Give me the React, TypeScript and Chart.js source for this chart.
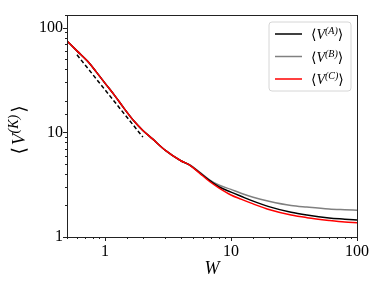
import React, { useEffect, useRef } from "react";
import { Chart, registerables } from "chart.js";

Chart.register(...registerables);

// ---- data ----
const W = [0.5, 0.6, 0.75, 0.85, 1.0, 1.2, 1.4, 1.7, 2.0, 2.4, 3.0, 4.0, 4.7, 5.6, 6.8, 8, 10, 12, 15, 20, 30, 40, 60, 80, 100];
const vA = [74.5, 60, 46, 38, 29.5, 22.3, 17.3, 12.8, 10.4, 8.6, 6.75, 5.35, 4.87, 4.15, 3.45, 3.02, 2.68, 2.45, 2.2, 1.95, 1.72, 1.62, 1.52, 1.48, 1.45];
const vB = [74.5, 60, 46, 38, 29.5, 22.3, 17.3, 12.8, 10.4, 8.6, 6.75, 5.35, 4.9, 4.2, 3.5, 3.14, 2.85, 2.62, 2.4, 2.2, 2.0, 1.93, 1.85, 1.82, 1.8];
const vC = [74.5, 60, 46, 38, 29.5, 22.3, 17.3, 12.8, 10.4, 8.6, 6.75, 5.35, 4.87, 4.1, 3.37, 2.95, 2.52, 2.3, 2.07, 1.83, 1.62, 1.53, 1.44, 1.39, 1.37];
const guideW = [0.6, 2.0];
const guideV = [55, 9];

const seriesKeys = ["A", "B", "C"];
const seriesColors = ["#000000", "#808080", "#ff0000"];
const xTickLabels = [1, 10, 100];
const yTickLabels = [1, 10, 100];
const xTitle = "W";
const yTitleKey = "K";

const SERIF = "'Liberation Serif', 'DejaVu Serif', serif";

const isDecade = (v: number) => {
  const l = Math.log10(v);
  return Math.abs(l - Math.round(l)) < 1e-9;
};

// draws ⟨V^(k)⟩ starting at x (baseline y), returns total width if dryRun
function drawBracketV(ctx: any, k: string, x: number, base: number, size: number, supSize: number, rise: number, gap: number, dry = false) {
  const start = x;
  ctx.font = `${size}px ${SERIF}`;
  if (!dry) ctx.fillText("⟨", x, base);
  x += ctx.measureText("⟨").width + gap;
  ctx.font = `italic ${size}px ${SERIF}`;
  if (!dry) ctx.fillText("V", x, base);
  x += ctx.measureText("V").width;
  ctx.font = `italic ${supSize}px ${SERIF}`;
  const sup = `(${k})`;
  if (!dry) ctx.fillText(sup, x, base - rise);
  x += ctx.measureText(sup).width + gap;
  ctx.font = `${size}px ${SERIF}`;
  if (!dry) ctx.fillText("⟩", x, base);
  x += ctx.measureText("⟩").width;
  return x - start;
}

const framePlugin = {
  id: "frameAndTicks",
  afterDraw(chart: any) {
    const { ctx, chartArea } = chart;
    const { left, right, top, bottom } = chartArea;
    ctx.save();
    ctx.strokeStyle = "#222";
    ctx.lineWidth = 1;
    const xs = chart.scales.x;
    const ys = chart.scales.y;
    ctx.beginPath();
    xs.ticks.forEach((t: any) => {
      const px = Math.round(xs.getPixelForValue(t.value)) + 0.5;
      if (px < left - 1 || px > right + 1) return;
      const len = isDecade(t.value) ? 4 : 2;
      ctx.moveTo(px, bottom);
      ctx.lineTo(px, bottom + len);
    });
    ys.ticks.forEach((t: any) => {
      const py = Math.round(ys.getPixelForValue(t.value)) + 0.5;
      if (py < top - 1 || py > bottom + 1) return;
      const len = isDecade(t.value) ? 4 : 2;
      ctx.moveTo(left, py);
      ctx.lineTo(left - len, py);
    });
    ctx.stroke();
    ctx.strokeRect(Math.round(left) + 0.5, Math.round(top) + 0.5, Math.round(right - left), Math.round(bottom - top));

    // y axis title ⟨V^(K)⟩, rotated
    ctx.fillStyle = "#000";
    ctx.textBaseline = "alphabetic";
    const w = drawBracketV(ctx, yTitleKey, 0, 0, 19, 14, 7, 2, true);
    const cy = (top + bottom) / 2 + 4;
    ctx.translate(25, cy + w / 2);
    ctx.rotate(-Math.PI / 2);
    drawBracketV(ctx, yTitleKey, 0, 0, 19, 14, 7, 2);
    ctx.restore();
  },
};

const legendPlugin = {
  id: "insideLegend",
  afterDraw(chart: any) {
    const { ctx, chartArea } = chart;
    const bw = 82;
    const bh = 69;
    const bx = chartArea.right - 6 - bw;
    const by = chartArea.top + 7;
    ctx.save();
    ctx.beginPath();
    const r = 3;
    ctx.moveTo(bx + r, by);
    ctx.arcTo(bx + bw, by, bx + bw, by + bh, r);
    ctx.arcTo(bx + bw, by + bh, bx, by + bh, r);
    ctx.arcTo(bx, by + bh, bx, by, r);
    ctx.arcTo(bx, by, bx + bw, by, r);
    ctx.closePath();
    ctx.fillStyle = "rgba(255,255,255,0.85)";
    ctx.fill();
    ctx.strokeStyle = "#d6d6d6";
    ctx.lineWidth = 1;
    ctx.stroke();
    seriesKeys.forEach((k, i) => {
      const cy = by + 12 + i * 22.5;
      ctx.strokeStyle = seriesColors[i];
      ctx.lineWidth = 1.5;
      ctx.beginPath();
      ctx.moveTo(bx + 6, cy);
      ctx.lineTo(bx + 33, cy);
      ctx.stroke();
      ctx.fillStyle = "#000";
      ctx.textBaseline = "alphabetic";
      drawBracketV(ctx, k, bx + 42, cy + 5, 14, 10, 5, 0);
    });
    ctx.restore();
  },
};

export default function App() {
  const ref = useRef<HTMLCanvasElement | null>(null);
  useEffect(() => {
    if (!ref.current) return;
    const mk = (vals: number[]) => W.map((w, i) => ({ x: w, y: vals[i] }));
    const line = (label: string, vals: number[], color: string, order: number) => ({
      label,
      data: mk(vals),
      borderColor: color,
      backgroundColor: color,
      borderWidth: 1.5,
      pointRadius: 0,
      cubicInterpolationMode: "monotone" as const,
      fill: false,
      order,
    });
    const chart = new Chart(ref.current, {
      type: "line",
      data: {
        datasets: [
          {
            label: "guide",
            data: guideW.map((w, i) => ({ x: w, y: guideV[i] })),
            borderColor: "#000",
            borderWidth: 1.5,
            borderDash: [4, 2.5],
            pointRadius: 0,
            fill: false,
            order: 0,
          },
          line(seriesKeys[2], vC, seriesColors[2], 1),
          line(seriesKeys[0], vA, seriesColors[0], 2),
          line(seriesKeys[1], vB, seriesColors[1], 3),
        ],
      },
      options: {
        responsive: false,
        animation: false,
        devicePixelRatio: 1,
        layout: { padding: { top: 15, right: 27, left: 0, bottom: 0 } },
        plugins: { legend: { display: false }, tooltip: { enabled: false } },
        scales: {
          x: {
            type: "logarithmic",
            min: 0.5,
            max: 100,
            border: { display: false },
            grid: { display: false, drawTicks: false },
            ticks: {
              autoSkip: false,
              maxRotation: 0,
              padding: 5,
              color: "#000",
              font: { family: SERIF, size: 16 },
              callback: (v: any) => (xTickLabels.includes(Number(v)) ? String(v) : ""),
            },
            title: {
              display: true,
              text: xTitle,
              color: "#000",
              font: { family: SERIF, size: 18, style: "italic" },
              padding: { top: 0, bottom: 8 },
            },
            afterFit: (s: any) => {
              s.height = 51;
            },
          },
          y: {
            type: "logarithmic",
            min: 1,
            max: 132,
            border: { display: false },
            grid: { display: false, drawTicks: false },
            ticks: {
              autoSkip: false,
              padding: 4,
              color: "#000",
              font: { family: SERIF, size: 16 },
              callback: (v: any) => (yTickLabels.includes(Number(v)) ? String(v) : ""),
            },
            afterFit: (s: any) => {
              s.width = 67;
            },
          },
        },
      },
      plugins: [framePlugin, legendPlugin],
    });
    return () => chart.destroy();
  }, []);
  return (
    <div style={{ position: "fixed", left: 0, top: 0, width: 384, height: 288, background: "#fff" }}>
      <canvas ref={ref} width={384} height={288} />
    </div>
  );
}
